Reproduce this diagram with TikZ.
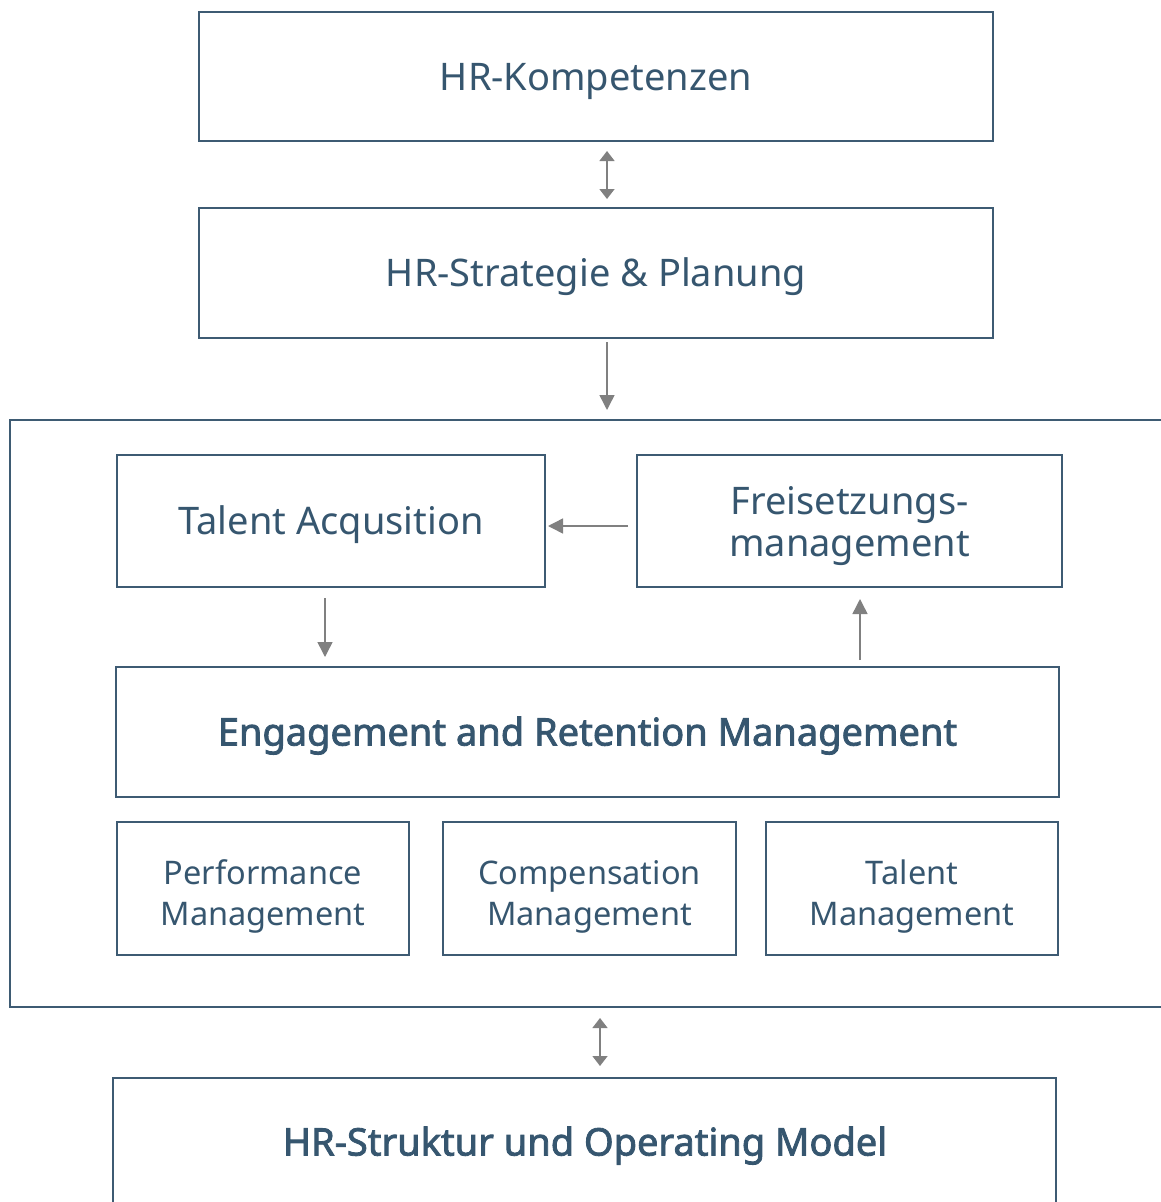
\documentclass[tikz,border=0pt]{standalone}
\usepackage{fontspec}
\setmainfont{Noto Sans}
\newfontfamily\fakebold{Noto Sans}[FakeBold=2.2]
\usetikzlibrary{arrows.meta,calc}
\definecolor{frame}{HTML}{3E5B73}
\definecolor{txt}{HTML}{36566F}
\definecolor{arr}{HTML}{808080}
\begin{document}
\begin{tikzpicture}[x=1pt,y=-1pt,
  box/.style={draw=frame,line width=2pt,text=txt,align=center,inner sep=0pt,text depth=0pt},
  one/.style={text height=27pt},
  conn/.style={draw=arr,line width=1.5pt,-{Triangle[length=15pt,width=15pt]}},
  dconn/.style={draw=arr,line width=1.5pt,{Triangle[length=10pt,width=15pt]}-{Triangle[length=10pt,width=15pt]}},
  big/.style={font=\fontsize{38}{42}\selectfont},
  bigbold/.style={font=\fakebold\fontsize{38}{42}\selectfont},
  small/.style={font=\fontsize{32.5}{41.5}\selectfont}]
\useasboundingbox (0,0) rectangle (1161,1202);
\begin{scope}
\clip (0,0) rectangle (1161,1202);
\draw[frame,line width=2pt] (1200,420) -- (10,420) -- (10,1007) -- (1200,1007);
\draw[frame,line width=2pt] (113,1230) -- (113,1078) -- (1056,1078) -- (1056,1230);
\end{scope}
\node[box,big,one,minimum width=794pt,minimum height=129pt] (komp) at (596,76.5) {HR-Kompetenzen};
\node[box,big,one,minimum width=794pt,minimum height=130pt] (strat) at (596,273) {HR-Strategie \& Planung};
\node[box,big,one,minimum width=428pt,minimum height=132pt] (ta) at (331,521) {Talent Acqusition};
\node[box,big,minimum width=425pt,minimum height=132pt] (frei) at (849.5,521) {Freisetzungs-\\management};
\node[box,bigbold,one,minimum width=943pt,minimum height=130pt] (eng) at (587.5,732) {Engagement and Retention Management};
\node[box,small,minimum width=292pt,minimum height=133pt] (perf) at (263,888.5) {\rule{0pt}{33pt}Performance\\Management};
\node[box,small,minimum width=293pt,minimum height=133pt] (comp) at (589.5,888.5) {\rule{0pt}{33pt}Compensation\\Management};
\node[box,small,minimum width=292pt,minimum height=133pt] (tm) at (912,888.5) {\rule{0pt}{33pt}Talent\\Management};
\node[text=txt,bigbold,inner sep=0pt,text height=27pt,text depth=0pt] (struk) at (585,1142) {HR-Struktur und Operating Model};
\coordinate (outertop) at (607,420);
\coordinate (outerbot) at (600,1007);
\coordinate (struktop) at (600,1078);
\draw[dconn] ($(komp.south -| 607,0)+(0,9)$) -- ($(strat.north -| 607,0)+(0,-8)$);
\draw[conn] ($(strat.south -| 607,0)+(0,3)$) -- ($(outertop)+(0,-10)$);
\draw[conn] ($(frei.west |- 0,526)+(-8,0)$) -- ($(ta.east |- 0,526)+(2,0)$);
\draw[conn] ($(ta.south -| 325,0)+(0,10)$) -- ($(eng.north -| 325,0)+(0,-9)$);
\draw[conn] ($(eng.north -| 860,0)+(0,-6)$) -- ($(frei.south -| 860,0)+(0,11)$);
\draw[dconn] ($(outerbot)+(0,11)$) -- ($(struktop)+(0,-12)$);
\end{tikzpicture}
\end{document}
